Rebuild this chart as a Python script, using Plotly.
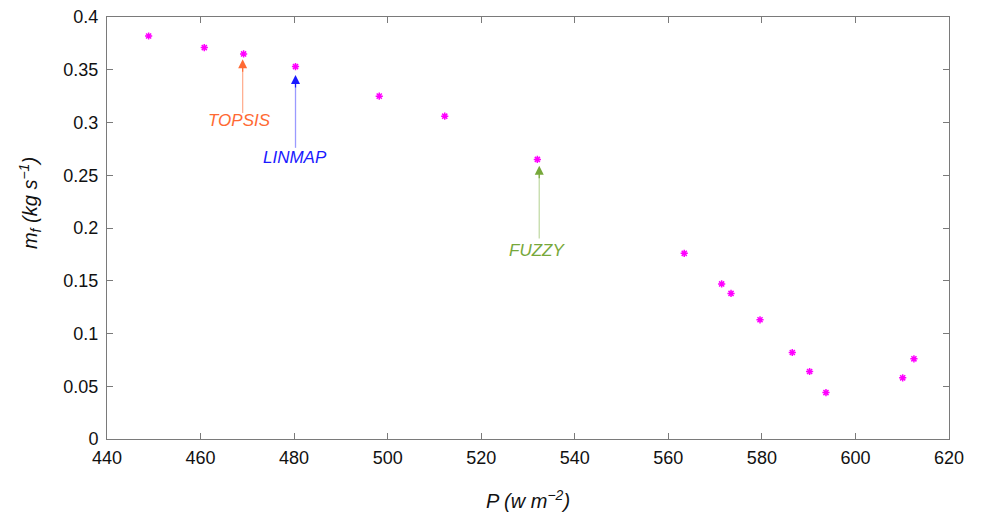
import plotly.graph_objects as go

P = [448.9, 460.8, 469.2, 480.3, 498.2, 512.2, 532.0, 563.4, 571.4, 573.4, 579.6, 586.5, 590.2, 593.7, 610.1, 612.5]
mf = [0.382, 0.371, 0.365, 0.353, 0.325, 0.306, 0.265, 0.176, 0.147, 0.138, 0.113, 0.082, 0.064, 0.044, 0.058, 0.076]

labels = ["TOPSIS", "LINMAP", "FUZZY"]
arrow_P = [469.0, 480.3, 532.4]
arrow_tip_mf = [0.360, 0.345, 0.259]
arrow_tail_mf = [0.309, 0.276, 0.190]
text_P = [468.3, 480.1, 531.9]
text_mf = [0.302, 0.267, 0.179]
colors = ["#ff6a33", "#1a1aff", "#77a83a"]
line_colors = ["#ffb093", "#9a9aff", "#c3dba8"]

FONT = "Liberation Sans, Arial, Helvetica, sans-serif"

fig = go.Figure()
fig.add_trace(go.Scatter(
    x=P, y=mf, mode="markers",
    marker=dict(symbol="asterisk-open", size=6, color="#ff00ff",
                line=dict(color="#ff00ff", width=1.5)),
    showlegend=False,
))

for lab, px, tip, tail, tx, ty, c, lc in zip(labels, arrow_P, arrow_tip_mf, arrow_tail_mf,
                                              text_P, text_mf, colors, line_colors):
    fig.add_shape(type="line", x0=px, x1=px, y0=tail, y1=tip - 0.008, xref="x", yref="y",
                  line=dict(color=lc, width=1.3))
    fig.add_annotation(x=px, y=tip, ax=0, ay=14, xref="x", yref="y",
                       text="", showarrow=True, arrowhead=2, arrowsize=1.5, arrowwidth=1.2,
                       arrowcolor=c)
    fig.add_annotation(x=tx, y=ty, xref="x", yref="y", text="<i>" + lab + "</i>", showarrow=False,
                       font=dict(size=17, color=c, family=FONT))

axis_common = dict(showgrid=False, zeroline=False, showline=True, linecolor="#7a7a7a", linewidth=1,
                   mirror="ticks", ticks="inside", ticklen=6, tickcolor="#7a7a7a",
                   ticklabeloverflow="allow", automargin=False,
                   tickfont=dict(size=18, color="#111111", family=FONT))

fig.update_xaxes(range=[440, 620], dtick=20, tick0=440, ticklabelstandoff=2,
                 title=dict(text="<i>P (w m<sup>−2</sup>)</i>", standoff=27,
                            font=dict(size=20, color="#111111", family=FONT)),
                 **axis_common)
fig.update_yaxes(range=[0, 0.4], dtick=0.05, tick0=0, ticklabelstandoff=4, **axis_common)

fig.add_annotation(xref="paper", yref="paper", x=-0.091, y=0.56, textangle=-90,
                   text="<i>m<sub>f</sub> (kg s<sup>−1</sup>)</i>", showarrow=False,
                   xanchor="center", yanchor="middle",
                   font=dict(size=20, color="#111111", family=FONT))

fig.update_layout(width=974, height=506, margin=dict(l=99, r=33, t=9, b=75),
                  plot_bgcolor="white", paper_bgcolor="white")
fig.write_html("out.html")
